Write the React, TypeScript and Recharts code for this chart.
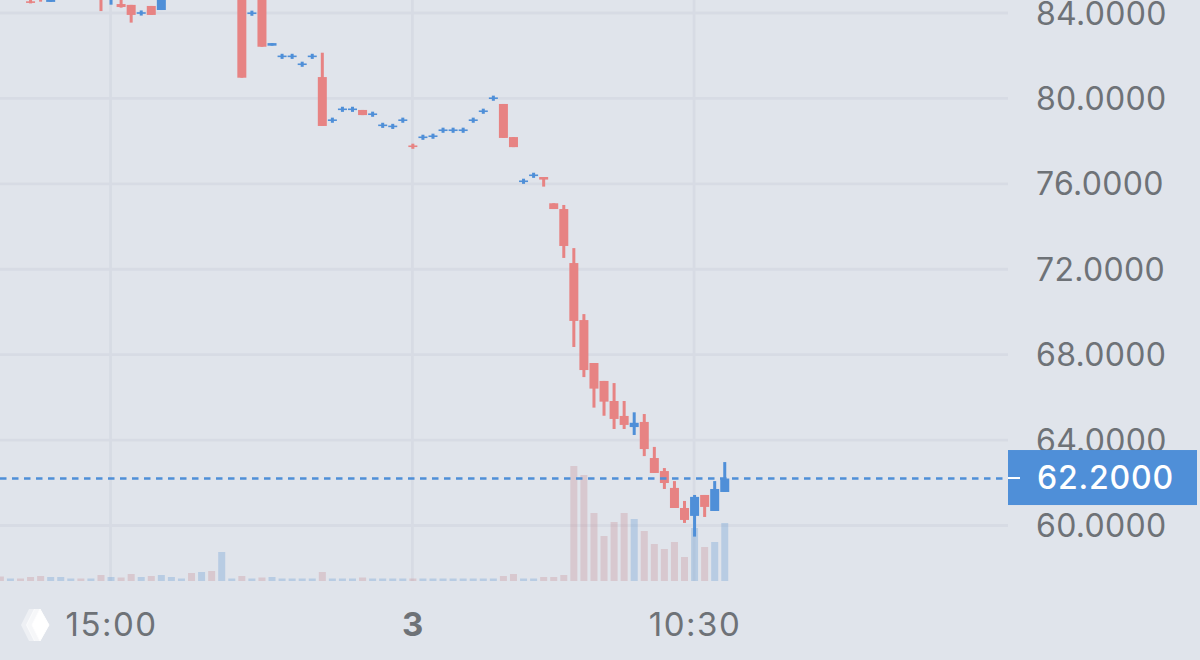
import { Bar, CartesianGrid, ComposedChart, ReferenceLine, XAxis, YAxis } from "recharts";

// one slot per candle, n = not visible in the frame
const n = null;
const opens = [n, n, n, 84.52, 84.9, 84.52, n, n, n, n, 85.5, 84.9, 84.42, 84.38, 83.99, 84.33, 84.14, n, n, n, n, n, n, n, 86, 83.98, 85.5, 82.47, 81.96, 81.96, 81.59, 81.96, 81.0, 78.97, 79.48, 79.48, 79.46, 79.25, 78.73, 78.68, 78.97, 77.77, 78.17, 78.22, 78.5, 78.5, 78.5, 78.97, 79.39, 80.0, 79.74, 78.19, 76.11, 76.39, 76.32, 75.09, 74.82, 72.29, 69.62, 67.61, 66.77, 65.83, 65.13, 64.61, 64.85, 63.16, 62.55, 61.76, 60.82, 60.45, 61.43, 60.68, 61.57];
const closes = [n, n, n, 84.5, 84.7, 84.8, n, n, n, n, 85, 85.2, 84.28, 83.91, 84.01, 83.91, 85.0, n, n, n, n, n, n, n, 80.97, 84.0, 82.42, 82.59, 81.98, 81.98, 81.61, 81.98, 78.71, 78.99, 79.5, 79.5, 79.22, 79.27, 78.75, 78.7, 78.99, 77.75, 78.19, 78.24, 78.52, 78.52, 78.52, 78.99, 79.41, 80.02, 78.15, 77.72, 76.13, 76.41, 76.2, 74.82, 73.09, 69.58, 67.28, 66.41, 65.8, 64.99, 64.71, 64.81, 63.58, 62.46, 61.99, 60.82, 60.26, 61.34, 60.87, 61.71, 62.2];
const highs = [n, n, n, 84.63, 85, 85, n, n, n, n, 85.6, 85.3, 84.9, 84.38, 84.12, 84.33, 85.1, n, n, n, n, n, n, n, 86.1, 84.11, 85.6, 82.59, 82.09, 82.09, 81.72, 82.09, 82.14, 79.1, 79.61, 79.61, 79.46, 79.38, 78.86, 78.81, 79.1, 77.88, 78.3, 78.35, 78.63, 78.63, 78.63, 79.1, 79.52, 80.13, 79.74, 78.19, 76.24, 76.52, 76.32, 75.09, 75.01, 72.99, 69.9, 67.61, 66.77, 66.67, 65.83, 65.3, 65.22, 63.68, 62.69, 62.08, 61.15, 61.43, 61.43, 62.08, 62.97];
const lows = [n, n, n, 84.45, 84.53, 84.52, n, n, n, n, 84.09, 84.39, 84.25, 83.55, 83.88, 83.91, 84.14, n, n, n, n, n, n, n, 80.97, 83.87, 82.42, 82.47, 81.85, 81.85, 81.48, 81.85, 78.71, 78.86, 79.37, 79.37, 79.22, 79.14, 78.62, 78.57, 78.86, 77.64, 78.06, 78.11, 78.39, 78.39, 78.39, 78.86, 79.28, 79.89, 78.15, 77.72, 76.0, 76.28, 75.87, 74.82, 72.53, 68.36, 66.95, 65.52, 65.14, 64.52, 64.52, 64.24, 63.25, 62.46, 61.71, 60.82, 60.12, 59.48, 60.4, 60.68, 61.57];
const volumes = [4.5, 2.5, 2.5, 4, 5, 4, 4, 2.5, 2.5, 2.5, 6, 4, 3.5, 7, 4, 5, 6, 4, 2.5, 8, 9, 10, 29, 2.5, 5, 2.5, 3.5, 4, 2.5, 2.5, 2.5, 2.5, 9, 2.5, 2.5, 2.5, 3.5, 2.5, 2.5, 2.5, 2.5, 2.5, 2.5, 2.5, 2.5, 2.5, 2.5, 2.5, 2.5, 2.5, 5, 7, 2.5, 2.5, 4, 4, 6, 115, 106, 68, 45, 59, 68, 62, 50, 37, 32, 39, 24, 53, 34, 39, 58];
// slots above the frame: colour of the volume bar only
const volumeUp = [1, 5, 6, 7, 9, 11, 14, 16, 17, 18, 20, 22, 23, 25, 27, 28];

const priceTicks = [84, 80, 76, 72, 68, 64, 60];
const lastPrice = 62.2;
const timeTicks = [11, 41, 69];
const timeLabels = ["15:00", "3", "10:30"];

const WIDTH = 1200;
const HEIGHT = 660;
const RED = "#E78383";
const BLUE = "#4F8FD8";
const VOL_RED = "#C8878D";
const VOL_BLUE = "#5E94D0";
const GRID = "#D7DBE4";
const TEXT = "#6E7277";
const BG = "#E0E4EB";
const FONT = "Inter, Roboto, sans-serif";

const rows = volumes.map((v, i) => ({
  slot: i,
  open: opens[i],
  close: closes[i],
  high: highs[i],
  low: lows[i],
  volume: v,
}));

const isUp = (d: any) => (d.open == null ? volumeUp.includes(d.slot) : d.close >= d.open);

function CandlePart(props: any) {
  const { x, y, width, height, payload } = props;
  if (payload.open == null) return null;
  const h = Math.max(Math.abs(height), 1.6);
  const mid = y + height / 2;
  return <rect x={x} y={mid - h / 2} width={width} height={h} fill={isUp(payload) ? BLUE : RED} />;
}

function VolumeBar(props: any) {
  const { x, y, width, height, payload } = props;
  return <rect x={x} y={y} width={width} height={height} fill={isUp(payload) ? VOL_BLUE : VOL_RED} opacity={0.3} />;
}

function PriceTick({ x, y, payload }: any) {
  // the axis hands over x just past its tick offset, the panel edge sits 8px left of it
  const edge = x - 8;
  if (payload.value === lastPrice) {
    return (
      <g>
        <rect x={edge} y={y - 28.5} width={189} height={55} fill={BLUE} />
        <rect x={edge} y={y - 1.5} width={12} height={2} fill="#fff" />
        <text x={edge + 29} y={y + 10.5} fill="#fff" fontSize={32} fontWeight={500} fontFamily={FONT} letterSpacing={0.8}>
          {payload.value.toFixed(4)}
        </text>
      </g>
    );
  }
  return (
    <text x={edge + 28} y={y + 11.5} fill={TEXT} fontSize={32} fontFamily={FONT} letterSpacing={0.3}>
      {payload.value.toFixed(4)}
    </text>
  );
}

function TimeTick({ x, payload }: any) {
  const label = timeLabels[timeTicks.indexOf(payload.value)];
  return (
    <text x={x + 1} y={636} textAnchor="middle" fill={TEXT} fontSize={33} fontFamily={FONT} fontWeight={label === "3" ? 700 : 400} letterSpacing={1.5}>
      {label}
    </text>
  );
}

function Logo() {
  return (
    <svg width={36} height={36} viewBox="0 0 36 36" style={{ position: "absolute", left: 18, top: 607 }}>
      <path d="M11 2 L3 18 L11 34 L17 34 L9 18 L17 2 Z" fill="#fff" opacity={0.45} />
      <path d="M16 2 L8 18 L16 34 L22 34 L14 18 L22 2 Z" fill="#fff" opacity={0.7} />
      <path d="M22 2 L31 18 L22 34 L14 18 Z" fill="#fff" stroke="#fff" strokeWidth={1} strokeLinejoin="round" />
    </svg>
  );
}

export default function App() {
  const xDomain: [number, number] = [0.01, 100.2];
  return (
    <div style={{ position: "absolute", left: 0, top: 0, width: WIDTH, height: HEIGHT, background: BG, overflow: "hidden" }}>
      <ComposedChart width={WIDTH} height={HEIGHT} data={rows} margin={{ top: 0, right: 0, bottom: 0, left: 0 }}>
        <CartesianGrid xAxisId="main" yAxisId="price" stroke={GRID} strokeWidth={2.8} horizontalValues={priceTicks} verticalValues={timeTicks} />
        <XAxis xAxisId="main" type="number" dataKey="slot" domain={xDomain} allowDataOverflow ticks={timeTicks} interval={0} height={79} axisLine={false} tickLine={false} tick={<TimeTick />} />
        <XAxis xAxisId="vol" type="number" dataKey="slot" domain={xDomain} allowDataOverflow hide />
        <XAxis xAxisId="wick" type="number" dataKey="slot" domain={xDomain} allowDataOverflow hide />
        <XAxis xAxisId="body" type="number" dataKey="slot" domain={xDomain} allowDataOverflow hide />
        <YAxis yAxisId="price" orientation="right" type="number" width={192} domain={[57.401, 84.609]} allowDataOverflow ticks={[...priceTicks, lastPrice]} interval={0} axisLine={false} tickLine={false} tick={<PriceTick />} />
        <YAxis yAxisId="vol" hide type="number" domain={[0, 581]} allowDataOverflow />
        <Bar xAxisId="vol" yAxisId="vol" dataKey="volume" barSize={7} shape={<VolumeBar />} isAnimationActive={false} />
        <Bar xAxisId="wick" yAxisId="price" dataKey={(d: any) => (d.open == null ? null : [d.low, d.high])} barSize={3} shape={<CandlePart />} isAnimationActive={false} />
        <Bar xAxisId="body" yAxisId="price" dataKey={(d: any) => (d.open == null ? null : [Math.min(d.open, d.close), Math.max(d.open, d.close)])} barSize={9} shape={<CandlePart />} isAnimationActive={false} />
        <ReferenceLine xAxisId="main" yAxisId="price" y={lastPrice} stroke={BLUE} strokeWidth={2.6} strokeDasharray="6.5 5.5" strokeDashoffset={6.5} />
      </ComposedChart>
      <Logo />
    </div>
  );
}
